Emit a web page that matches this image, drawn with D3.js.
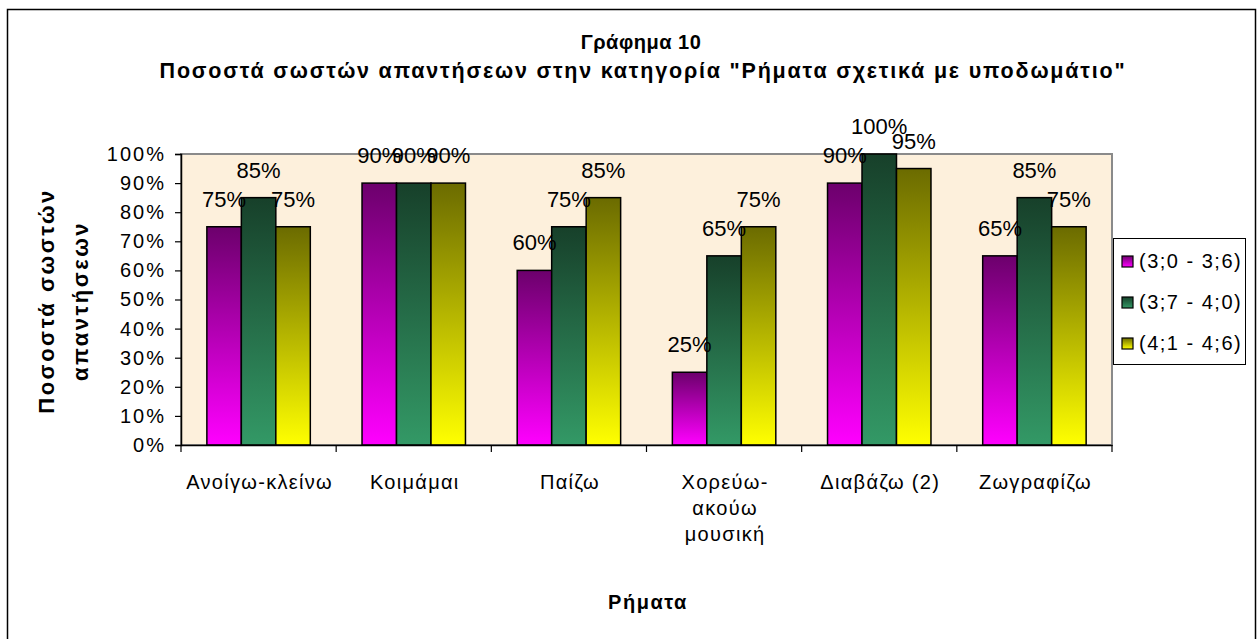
<!DOCTYPE html>
<html>
<head>
<meta charset="utf-8">
<script src="https://cdn.jsdelivr.net/npm/d3@7"></script>
<style>
  body { margin: 0; background: #fff; }
  svg { font-family: "Liberation Sans", Arial, sans-serif; display: block; }
</style>
</head>
<body>
<div class="chart-container"></div>
<script>
const categories = [
    ["Ανοίγω-κλείνω"],
    ["Κοιμάμαι"],
    ["Παίζω"],
    ["Χορεύω-", "ακούω", "μουσική"],
    ["Διαβάζω (2)"],
    ["Ζωγραφίζω"]
];
const seriesNames = ["(3;0 - 3;6)", "(3;7 - 4;0)", "(4;1 - 4;6)"];
const series1 = [75, 90, 60, 25, 90, 65];
const series2 = [85, 90, 75, 65, 100, 85];
const series3 = [75, 90, 85, 75, 95, 75];
const yTicks = [0, 10, 20, 30, 40, 50, 60, 70, 80, 90, 100];

const w = 1258;
const h = 639;
const plot = { left: 181, right: 1112, top: 154, bottom: 445 };

const gradients = [
    { id: "g-purple", top: "#6c006c", bottom: "#ff00ff" },
    { id: "g-green", top: "#17402a", bottom: "#339966" },
    { id: "g-yellow", top: "#6b6b00", bottom: "#ffff00" }
];

const values = [series1, series2, series3];
const catKeys = categories.map(c => c.join(" "));

const svg = d3.select(".chart-container")
    .append("svg")
    .attr("width", w)
    .attr("height", h);

const defs = svg.append("defs");
gradients.forEach(g => {
    const lg = defs.append("linearGradient")
        .attr("id", g.id)
        .attr("x1", 0).attr("y1", 0)
        .attr("x2", 0).attr("y2", 1);
    lg.append("stop").attr("offset", "0%").attr("stop-color", g.top);
    lg.append("stop").attr("offset", "100%").attr("stop-color", g.bottom);
});

// outer frame
svg.append("rect")
    .attr("x", 7.5).attr("y", 9.5)
    .attr("width", 1248).attr("height", 640)
    .attr("fill", "#fff")
    .attr("stroke", "#000")
    .attr("stroke-width", 1.5);

const xScale = d3.scaleBand()
    .domain(catKeys)
    .range([plot.left, plot.right])
    .paddingInner(0)
    .paddingOuter(0);

const xInner = d3.scaleBand()
    .domain(d3.range(3))
    .range([0, xScale.bandwidth()])
    .paddingInner(0)
    .paddingOuter(0.75);

const yScale = d3.scaleLinear()
    .domain([0, 100])
    .range([plot.bottom, plot.top]);

// plot area
svg.append("rect")
    .attr("x", plot.left).attr("y", plot.top)
    .attr("width", plot.right - plot.left)
    .attr("height", plot.bottom - plot.top)
    .attr("fill", "#fdf0dc")
    .attr("stroke", "#8a8a8a")
    .attr("stroke-width", 2);

// bars
const groups = svg.selectAll(".group")
    .data(catKeys)
    .enter()
    .append("g")
    .attr("class", "group")
    .attr("transform", d => `translate(${xScale(d)},0)`);

groups.selectAll("rect")
    .data((d, i) => values.map((s, k) => ({ k: k, v: s[i] })))
    .enter()
    .append("rect")
    .attr("x", d => xInner(d.k))
    .attr("y", d => yScale(d.v))
    .attr("width", xInner.bandwidth())
    .attr("height", d => plot.bottom - yScale(d.v))
    .attr("fill", d => `url(#${gradients[d.k].id})`)
    .attr("stroke", "#000")
    .attr("stroke-width", 1.5);

groups.selectAll("text")
    .data((d, i) => values.map((s, k) => ({ k: k, v: s[i] })))
    .enter()
    .append("text")
    .attr("x", d => xInner(d.k) + xInner.bandwidth() / 2)
    .attr("y", d => yScale(d.v) - 20)
    .attr("text-anchor", "middle")
    .style("font-size", "22px")
    .text(d => d.v + "%");

// axes
const yAxis = d3.axisLeft(yScale)
    .tickValues(yTicks)
    .tickSize(6)
    .tickPadding(8)
    .tickFormat(d => d + "%");

const yG = svg.append("g")
    .attr("transform", `translate(${plot.left},0)`)
    .call(yAxis);
yG.select(".domain").attr("stroke", "#000").attr("stroke-width", 1.5);
yG.selectAll(".tick line").attr("stroke", "#000").attr("stroke-width", 1.2);
yG.selectAll(".tick text")
    .attr("x", -15)
    .style("font-size", "20px")
    .style("letter-spacing", "2px")
    .style("font-family", "Liberation Sans, Arial, sans-serif")
    .attr("fill", "#000");

const xAxis = d3.axisBottom(xScale).tickSize(0).tickFormat("");
const xG = svg.append("g")
    .attr("transform", `translate(0,${plot.bottom})`)
    .call(xAxis);
xG.select(".domain").attr("stroke", "#000").attr("stroke-width", 1.5);

// category boundary ticks
svg.selectAll(".xtick")
    .data(catKeys.concat(["end"]))
    .enter()
    .append("line")
    .attr("x1", (d, i) => plot.left + i * xScale.step())
    .attr("x2", (d, i) => plot.left + i * xScale.step())
    .attr("y1", plot.bottom)
    .attr("y2", plot.bottom + 7)
    .attr("stroke", "#000")
    .attr("stroke-width", 1.2);

// category labels
const catText = svg.selectAll(".cat")
    .data(categories)
    .enter()
    .append("text")
    .attr("class", "cat")
    .attr("text-anchor", "middle")
    .style("font-size", "20px")
    .style("letter-spacing", "1.3px")
    .attr("transform", (d, i) => `translate(${xScale(catKeys[i]) + xScale.bandwidth() / 2 + 1},489)`);
catText.selectAll("tspan")
    .data(d => d)
    .enter()
    .append("tspan")
    .attr("x", 0)
    .attr("y", (d, i) => i * 26)
    .text(d => d);

// titles
svg.append("text")
    .attr("x", 641).attr("y", 49)
    .attr("text-anchor", "middle")
    .style("font-size", "20px")
    .style("font-weight", "bold")
    .style("letter-spacing", "0.5px")
    .text("Γράφημα 10");

svg.append("text")
    .attr("x", 643).attr("y", 78)
    .attr("text-anchor", "middle")
    .style("font-size", "21.5px")
    .style("font-weight", "bold")
    .style("letter-spacing", "1.8px")
    .text("Ποσοστά σωστών απαντήσεων στην κατηγορία \"Ρήματα σχετικά με υποδωμάτιο\"");

svg.append("text")
    .attr("x", 648).attr("y", 609)
    .attr("text-anchor", "middle")
    .style("font-size", "20px")
    .style("font-weight", "bold")
    .style("letter-spacing", "1.5px")
    .text("Ρήματα");

const yTitle = svg.append("text")
    .attr("transform", "translate(0,301) rotate(-90)")
    .attr("text-anchor", "middle")
    .style("font-size", "22px")
    .style("font-weight", "bold")
    .style("letter-spacing", "2.5px");
yTitle.append("tspan").attr("x", 0).attr("y", 54).text("Ποσοστά σωστών");
yTitle.append("tspan").attr("x", 0).attr("y", 88).text("απαντήσεων");

// legend
const legend = svg.append("g").attr("transform", "translate(1113,238)");
legend.append("rect")
    .attr("x", 0.5).attr("y", 0.5)
    .attr("width", 132).attr("height", 126)
    .attr("fill", "#fff")
    .attr("stroke", "#000")
    .attr("stroke-width", 1);

const items = legend.selectAll(".item")
    .data(seriesNames)
    .enter()
    .append("g")
    .attr("transform", (d, i) => `translate(0,${23 + i * 41})`);
items.append("rect")
    .attr("x", 9).attr("y", -5)
    .attr("width", 11).attr("height", 11)
    .attr("fill", (d, i) => `url(#${gradients[i].id})`)
    .attr("stroke", "#000")
    .attr("stroke-width", 1.2);
items.append("text")
    .attr("x", 26).attr("y", 7)
    .style("font-size", "20px")
    .style("letter-spacing", "1.5px")
    .text(d => d);
</script>
</body>
</html>
